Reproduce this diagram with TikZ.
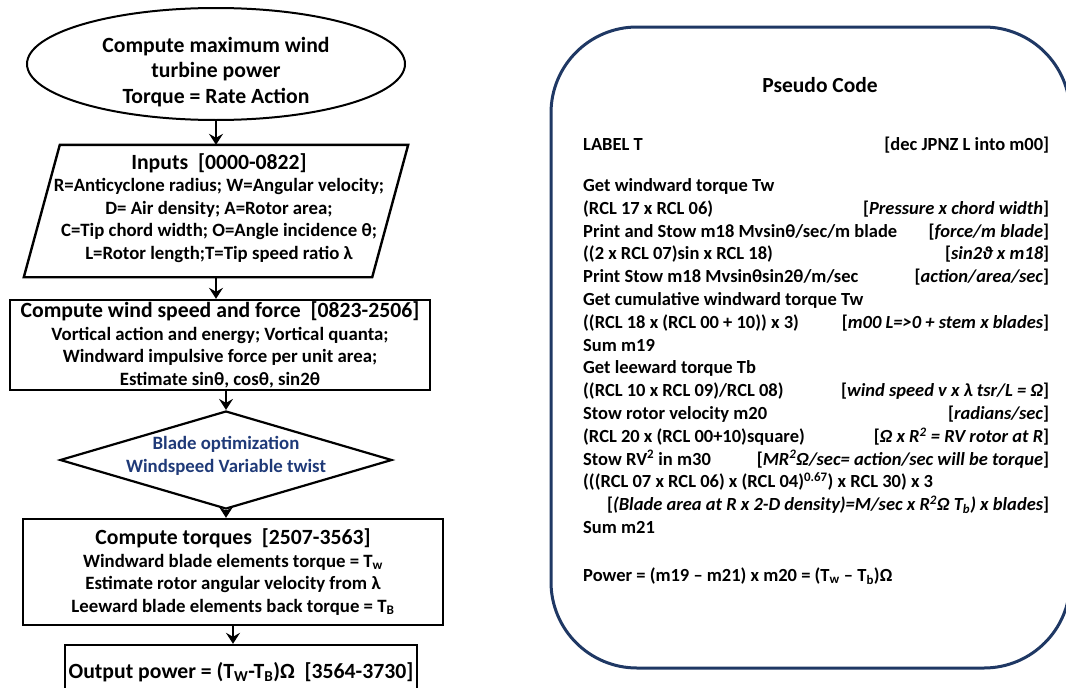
\documentclass[tikz,border=0pt]{standalone}
\usepackage{fontspec}
\setmainfont{Carlito}
\usetikzlibrary{shapes.geometric,arrows.meta}
\definecolor{navy}{HTML}{1F3864}
\definecolor{dblue}{HTML}{1F3A78}
\newcommand\pcl[2]{\makebox[466pt][l]{#1\hfill#2}}
\begin{document}
\begin{tikzpicture}[x=1pt,y=-1pt,
  box/.style={draw, line width=2.4pt, inner sep=0pt, align=center},
  arr/.style={line width=2.8pt, -{Stealth[length=11pt,width=14pt,inset=4pt]}},
  ttl/.style={font=\bfseries\fontsize{21.7}{24}\selectfont},
  bdy/.style={font=\bfseries\fontsize{18.8}{22.5}\selectfont}]
\path[use as bounding box, clip] (0,0) rectangle (1066,688);

% start ellipse
\node[draw, ellipse, line width=2pt, minimum width=378pt, minimum height=112pt, inner sep=0pt] (e) at (216,64) {};
\node[align=center, font=\bfseries\fontsize{21.7}{25.5}\selectfont] (et) at (216,72)
  {Compute maximum wind\\turbine power\\Torque = Rate Action};

% inputs parallelogram
\node[minimum width=348pt, minimum height=132pt, inner sep=0pt] (inp) at (216,211) {};
\draw[line width=2.4pt, line join=miter] ([xshift=18pt]inp.north west) -- ([xshift=18pt]inp.north east)
  -- ([xshift=-18pt]inp.south east) -- ([xshift=-18pt]inp.south west) -- cycle;
\node[align=center, bdy] (inpt) at (219,208)
  {{\fontsize{21.7}{24}\selectfont Inputs~~[0000-0822]}\\
   R=Anticyclone radius; W=Angular velocity;\\
   D= Air density; A=Rotor area;\\
   C=Tip chord width; O=Angle incidence θ;\\
   L=Rotor length;T=Tip speed ratio λ};

% wind speed box
\node[box, bdy, minimum width=420pt, minimum height=90pt] (b2) at (220,345)
  {{\fontsize{21.7}{24}\selectfont Compute wind speed and force~~[0823-2506]}\\
   Vortical action and energy; Vortical quanta;\\
   Windward impulsive force per unit area;\\
   Estimate sinθ, cosθ, sin2θ};

% diamond
\node[draw, diamond, line width=2.2pt, minimum width=332pt, minimum height=98pt, inner sep=0pt] (d) at (226,460) {};
\node[align=center, text=dblue, bdy] (dt) at (226,456) {Blade optimization\\Windspeed Variable twist};

% torques box
\node[box, bdy, minimum width=420pt, minimum height=106pt] (b3) at (233,572)
  {{\fontsize{21.7}{24}\selectfont Compute torques~~[2507-3563]}\\
   Windward blade elements torque = T\textsubscript{w}\\
   Estimate rotor angular velocity from λ\\
   Leeward blade elements back torque = T\textsubscript{B}};

% output box
\node[box, ttl, minimum width=352pt, minimum height=54pt] (b4) at (241,672)
  {Output power = (T\textsubscript{W}-T\textsubscript{B})Ω~~[3564-3730]};

% arrows
\draw[arr] (e.south) -- (e.south |- inp.north);
\draw[arr] (inp.south) -- (inp.south |- b2.north);
\draw[arr] (d.north |- b2.south) -- (d.north);
\draw[arr] (d.south) -- (d.south |- b3.north);
\draw[arr] (b3.south) -- (b3.south |- b4.north);

% pseudo code panel
\node[draw=navy, line width=3pt, rounded corners=86pt, minimum width=519pt, minimum height=641pt, inner sep=0pt] (pc) at (810.5,347.5) {};
\node[font=\bfseries\fontsize{21.5}{24}\selectfont] (pct) at (820,85) {Pseudo Code};
\node[anchor=north west, align=left, inner sep=0pt, font=\bfseries\fontsize{18.5}{22.8}\selectfont] (code) at (583,137)
  {\pcl{LABEL T}{[dec JPNZ L into m00]}\\[18pt]
   Get windward torque Tw\\
   \pcl{(RCL 17 x RCL 06)}{[\textit{Pressure x chord width}]}\\
   \pcl{Print and Stow m18 Mvsinθ/sec/m blade}{[\textit{force/m blade}]}\\
   \pcl{((2 x RCL 07)sin x RCL 18)}{[\textit{sin2ϑ x m18}]}\\
   \pcl{Print Stow m18 Mvsinθsin2θ/m/sec}{[\textit{action/area/sec}]}\\
   Get cumulative windward torque Tw\\
   \pcl{((RCL 18 x (RCL 00 + 10)) x 3)}{[\textit{m00 L=>0 + stem x blades}]}\\
   Sum m19\\
   Get leeward torque Tb\\
   \pcl{((RCL 10 x RCL 09)/RCL 08)}{[\textit{wind speed v x λ tsr/L = Ω}]}\\
   \pcl{Stow rotor velocity m20}{[\textit{radians/sec}]}\\
   \pcl{(RCL 20 x (RCL 00+10)square)}{[\textit{Ω x R\textsuperscript{2} = RV rotor at R}]}\\
   \pcl{Stow RV\textsuperscript{2} in m30}{[\textit{MR\textsuperscript{2}Ω/sec= action/sec will be torque}]}\\
   (((RCL 07 x RCL 06) x (RCL 04)\textsuperscript{0.67}) x RCL 30) x 3\\
   \pcl{}{[\textit{(Blade area at R x 2-D density)=M/sec x R\textsuperscript{2}Ω T\textsubscript{b}) x blades}]}\\
   Sum m21\\[25pt]
   Power = (m19 – m21) x m20 = (T\textsubscript{w} – T\textsubscript{b})Ω};
\end{tikzpicture}
\end{document}
